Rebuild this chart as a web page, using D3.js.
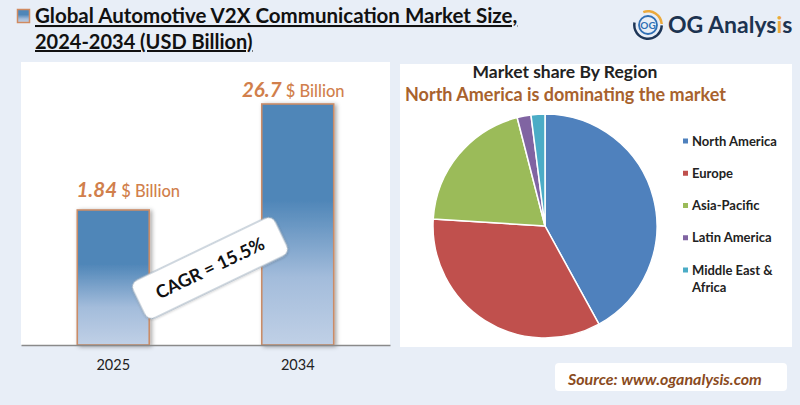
<!DOCTYPE html>
<html>
<head>
<meta charset="utf-8">
<script src="https://cdn.jsdelivr.net/npm/d3@7"></script>
<style>
  html, body { margin: 0; padding: 0; background: #e8eef7; }
  svg { display: block; }
  text { font-family: Lato, "Open Sans", sans-serif; }
</style>
</head>
<body>
<svg id="chart" width="800" height="405"></svg>
<script>
const years = ['2025', '2034']
const marketSize = [1.84, 26.7]
const regions = ['North America', 'Europe', 'Asia-Pacific', 'Latin America', 'Middle East & Africa']
const regionShare = [42, 34, 20, 2, 2]
const regionColors = ['#4f81bd', '#c0504d', '#9bbb59', '#8064a2', '#4bacc6']
const titleLines = ['Global Automotive V2X Communication Market Size,', '2024-2034 (USD Billion)']

const svg = d3.select('#chart')
const defs = svg.append('defs')

const grad = defs.append('linearGradient').attr('id', 'barFill').attr('x1', 0).attr('x2', 0).attr('y1', 0).attr('y2', 1)
grad.append('stop').attr('offset', '0%').attr('stop-color', '#4f86b8')
grad.append('stop').attr('offset', '40%').attr('stop-color', '#4f86b8')
grad.append('stop').attr('offset', '72%').attr('stop-color', '#a3bcdb')
grad.append('stop').attr('offset', '100%').attr('stop-color', '#c0d0e6')

const shadow = defs.append('filter').attr('id', 'shadow')
	.attr('x', '-20%').attr('y', '-20%').attr('width', '140%').attr('height', '140%')
shadow.append('feDropShadow').attr('dx', 2).attr('dy', 1).attr('stdDeviation', 2)
	.attr('flood-color', '#000').attr('flood-opacity', .35)

const softShadow = defs.append('filter').attr('id', 'softShadow')
	.attr('x', '-10%').attr('y', '-20%').attr('width', '120%').attr('height', '140%')
softShadow.append('feDropShadow').attr('dx', 0).attr('dy', 1).attr('stdDeviation', 1)
	.attr('flood-color', '#000').attr('flood-opacity', .2)

// header
svg.append('rect').attr('x', 17.5).attr('y', 9.5).attr('width', 12).attr('height', 13)
	.attr('fill', 'url(#barFill)').attr('stroke', '#d08a60').attr('stroke-width', 1.5)

svg.selectAll('.title').data(titleLines).join('text')
	.attr('class', 'title')
	.attr('x', 35)
	.attr('y', (d, i) => 23 + i * 26)
	.attr('font-size', (d, i) => i ? 20 : 20.5)
	.attr('font-weight', 700)
	.attr('fill', '#111')
	.attr('text-decoration', 'underline')
	.text(d => d)

// logo
const logo = svg.append('g').attr('transform', 'translate(648,25)')
const ring = d3.arc().innerRadius(12.5).outerRadius(15)
logo.append('path').attr('d', ring({ startAngle: -0.35, endAngle: 1.5 })).attr('fill', '#eba93c')
logo.append('path').attr('d', ring({ startAngle: 1.6, endAngle: 4.9 })).attr('fill', '#1d3557')
logo.append('circle').attr('r', 9).attr('fill', 'none').attr('stroke', '#2f6fb5').attr('stroke-width', 1.8)
logo.append('text').attr('text-anchor', 'middle').attr('y', 3.5).attr('font-size', 10).attr('font-weight', 700)
	.attr('fill', '#2f6fb5').text('OG')
const logoText = svg.append('text').attr('x', 668).attr('y', 33).attr('font-size', 23).attr('font-weight', 700).attr('fill', '#1c3350')
logoText.append('tspan').text('OG Analys')
logoText.append('tspan').attr('fill', '#eba93c').text('i')
logoText.append('tspan').text('s')

// bar panel
svg.append('rect').attr('x', 21).attr('y', 62).attr('width', 369).attr('height', 283).attr('fill', '#fff')

const baseline = 345
const x = d3.scaleBand().domain(years).range([21, 390]).paddingInner(.61).paddingOuter(.305)
// the picture's bars are not to zero, so the scale runs through the two drawn tops
const y = d3.scaleLinear().domain(marketSize).range([210, 104])

svg.selectAll('.bar').data(marketSize).join('rect')
	.attr('class', 'bar')
	.attr('x', (d, i) => x(years[i]))
	.attr('y', d => y(d))
	.attr('width', x.bandwidth())
	.attr('height', d => baseline - y(d))
	.attr('fill', 'url(#barFill)')
	.attr('stroke', '#c98c68')
	.attr('stroke-width', 1.6)
	.attr('filter', 'url(#shadow)')

// labels are not centred on the bars in the picture
const labelDx = [15, -4.5]
const labelDy = [-13, -7]
const valueLabels = svg.selectAll('.value').data(marketSize).join('text')
	.attr('class', 'value')
	.attr('x', (d, i) => x(years[i]) + x.bandwidth() / 2 + labelDx[i])
	.attr('y', (d, i) => y(d) + labelDy[i])
	.attr('text-anchor', 'middle')
	.attr('fill', '#d17f4c')
valueLabels.append('tspan').attr('font-size', 20.5).attr('font-weight', 700).attr('font-style', 'italic').text(d => d)
valueLabels.append('tspan').attr('font-size', 16.5).attr('font-weight', 500).text(' $ Billion')

const axis = svg.append('g').attr('transform', `translate(0,${baseline})`)
	.call(d3.axisBottom(x).tickSize(0).tickPadding(15))
axis.select('.domain').attr('stroke', '#8a8a8a').attr('stroke-width', 1.5)
axis.selectAll('text').attr('font-size', 14.5).attr('font-family', 'Lato').attr('fill', '#222')

const cagr = svg.append('g').attr('transform', 'translate(210,268) rotate(-25.7)')
cagr.append('rect').attr('x', -79).attr('y', -21).attr('width', 158).attr('height', 42).attr('rx', 8)
	.attr('fill', '#fff').attr('stroke', '#9fb0c0').attr('stroke-width', 1).attr('filter', 'url(#softShadow)')
cagr.append('text').attr('text-anchor', 'middle').attr('y', 6.5).attr('font-size', 18).attr('font-weight', 700)
	.attr('fill', '#111').text('CAGR = 15.5%')

// pie panel
svg.append('rect').attr('x', 400).attr('y', 64).attr('width', 392).attr('height', 283).attr('fill', '#fff')

svg.append('text').attr('x', 565).attr('y', 78).attr('text-anchor', 'middle')
	.attr('font-size', 17.5).attr('font-weight', 700).attr('fill', '#222').text('Market share By Region')
svg.append('text').attr('x', 405).attr('y', 101)
	.attr('font-size', 18).attr('font-weight', 700).attr('fill', '#a8622d').text('North America is dominating the market')

const pie = d3.pie().sort(null)
const arc = d3.arc().innerRadius(0).outerRadius(112)
svg.append('g').attr('transform', 'translate(545,226)')
	.selectAll('path').data(pie(regionShare)).join('path')
	.attr('d', arc)
	.attr('fill', (d, i) => regionColors[i])
	.attr('stroke', '#fff')
	.attr('stroke-width', 1.5)

// legend, last entry wraps on two lines
const legendY = d3.scalePoint().domain(regions).range([141, 270])
const legend = svg.selectAll('.legend').data(regions).join('g')
	.attr('class', 'legend')
	.attr('transform', d => `translate(683,${legendY(d)})`)
legend.append('rect').attr('y', -2.5).attr('width', 5).attr('height', 5).attr('fill', (d, i) => regionColors[i])
legend.each(function (d) {
	const parts = d === 'Middle East & Africa' ? ['Middle East &', 'Africa'] : [d]
	d3.select(this).selectAll('text').data(parts).join('text')
		.attr('x', 9)
		.attr('y', (p, i) => 4.5 + i * 17)
		.attr('font-size', 13)
		.attr('font-weight', 700)
		.attr('fill', '#222')
		.text(p => p)
})

// source box
svg.append('rect').attr('x', 555).attr('y', 363).attr('width', 232).attr('height', 28).attr('rx', 4).attr('fill', '#fff')
svg.append('text').attr('x', 568).attr('y', 385).attr('font-size', 16).attr('font-weight', 700).attr('font-style', 'italic')
	.attr('fill', '#8a4b1e').text('Source: www.oganalysis.com')
</script>
</body>
</html>
